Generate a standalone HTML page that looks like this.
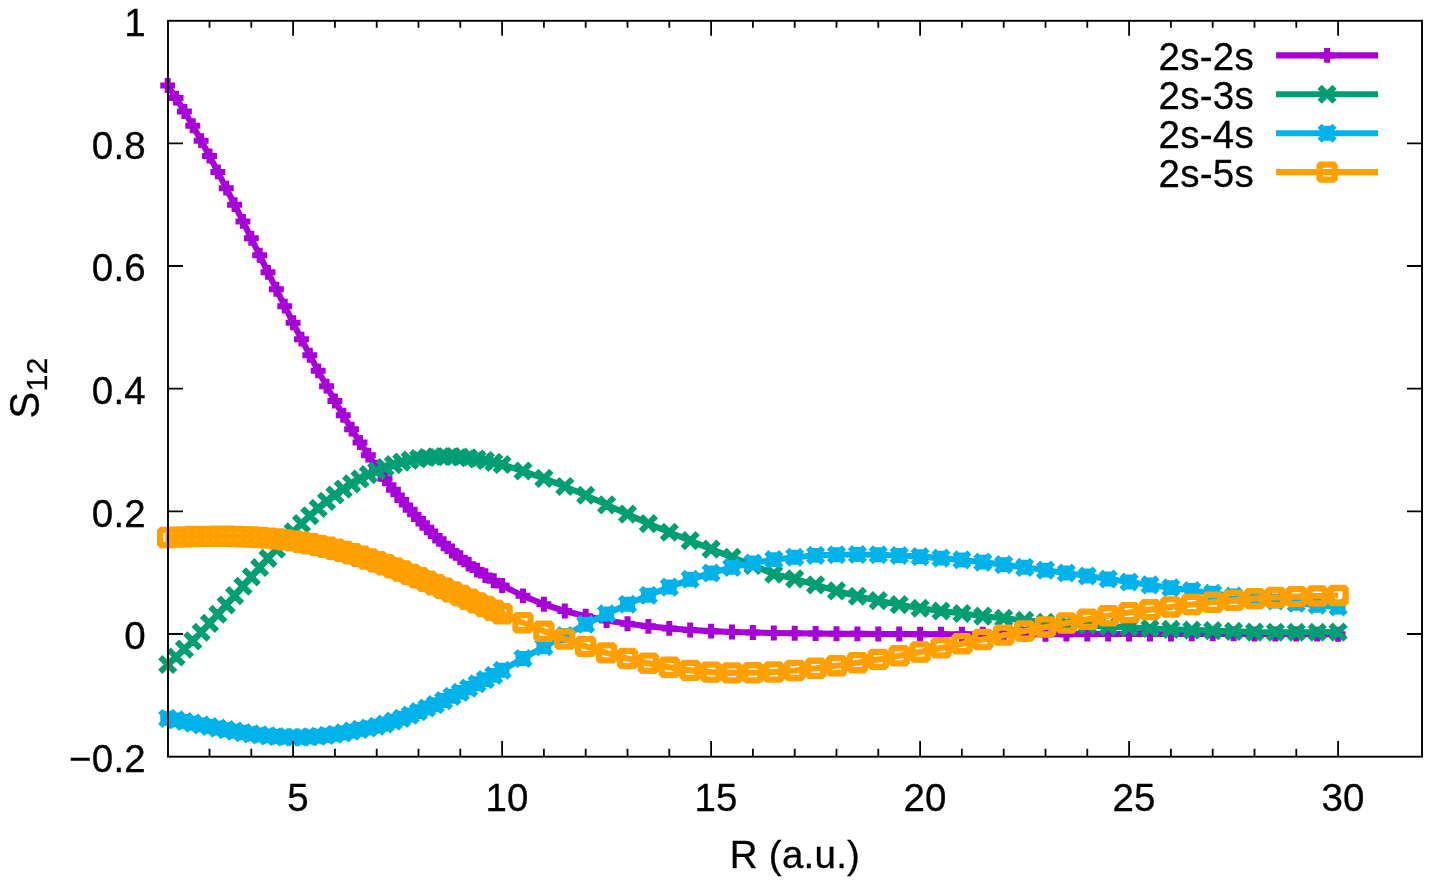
<!DOCTYPE html>
<html lang="en"><head><meta charset="utf-8"><title>S12 overlap vs R</title>
<style>html,body{margin:0;padding:0;background:#fff}svg{display:block}text{font-family:"Liberation Sans",sans-serif;fill:#000;stroke:#000;stroke-width:.3px;letter-spacing:.25px}</style></head>
<body>
<svg width="1434" height="882" viewBox="0 0 1434 882">
<rect width="1434" height="882" fill="#fff"/>
<g stroke="#a800d8" fill="none" stroke-linejoin="miter">
<path stroke-width="6.1" d="M1276.1 55.4H1378.1"/>
<path stroke-width="6.0" d="M1319.65 55.4H1334.55M1327.1 47.95V62.85"/>
<polyline stroke-width="6.1" stroke-linejoin="round" points="167.7,85.47 176.06,98.1 184.42,111.45 192.78,125.76 201.14,140.66 209.5,156.06 217.86,171.91 226.22,188.13 234.58,204.65 242.94,221.4 251.3,238.31 259.66,255.31 268.02,272.33 276.38,289.29 284.74,306.13 293.1,322.77 301.46,339.15 309.82,355.19 318.18,370.87 326.54,386.14 334.9,400.96 343.26,415.31 351.62,429.15 359.98,442.44 368.34,455.16 376.7,467.26 385.06,478.77 393.42,489.69 401.78,500.04 410.14,509.83 418.5,519.08 426.86,527.81 435.22,536.03 443.58,543.76 451.94,551.01 460.3,557.81 468.66,564.16 477.02,570.08 485.38,575.61 493.74,580.74 502.1,585.49 523,595.87 543.9,604.29 564.8,611.01 585.7,616.32 606.6,620.46 627.5,623.72 648.4,626.33 669.3,628.38 690.2,629.96 711.1,631.14 732,631.98 752.9,632.57 773.8,632.96 794.7,633.25 815.6,633.49 836.5,633.68 857.4,633.84 878.3,633.97 899.2,634.07 920.1,634.15 941,634.2 961.9,634.23 982.8,634.24 1003.7,634.23 1024.6,634.21 1045.5,634.18 1066.4,634.15 1087.3,634.11 1108.2,634.06 1129.1,634.02 1150,633.98 1170.9,633.95 1191.8,633.92 1212.7,633.91 1233.6,633.91 1254.5,633.93 1275.4,633.97 1296.3,634.03 1317.2,634.12 1338.1,634.23"/>
<path stroke-width="6.0" d="M160.25 85.47H175.15M167.7 78.02V92.92M168.61 98.1H183.51M176.06 90.65V105.55M176.97 111.45H191.87M184.42 104V118.9M185.33 125.76H200.23M192.78 118.31V133.21M193.69 140.66H208.59M201.14 133.21V148.11M202.05 156.06H216.95M209.5 148.61V163.51M210.41 171.91H225.31M217.86 164.46V179.36M218.77 188.13H233.67M226.22 180.68V195.58M227.13 204.65H242.03M234.58 197.2V212.1M235.49 221.4H250.39M242.94 213.95V228.85M243.85 238.31H258.75M251.3 230.86V245.76M252.21 255.31H267.11M259.66 247.86V262.76M260.57 272.33H275.47M268.02 264.88V279.78M268.93 289.29H283.83M276.38 281.84V296.74M277.29 306.13H292.19M284.74 298.68V313.58M285.65 322.77H300.55M293.1 315.32V330.22M294.01 339.15H308.91M301.46 331.7V346.6M302.37 355.19H317.27M309.82 347.74V362.64M310.73 370.87H325.63M318.18 363.42V378.32M319.09 386.14H333.99M326.54 378.69V393.59M327.45 400.96H342.35M334.9 393.51V408.41M335.81 415.31H350.71M343.26 407.86V422.76M344.17 429.15H359.07M351.62 421.7V436.6M352.53 442.44H367.43M359.98 434.99V449.89M360.89 455.16H375.79M368.34 447.71V462.61M369.25 467.26H384.15M376.7 459.81V474.71M377.61 478.77H392.51M385.06 471.32V486.22M385.97 489.69H400.87M393.42 482.24V497.14M394.33 500.04H409.23M401.78 492.59V507.49M402.69 509.83H417.59M410.14 502.38V517.28M411.05 519.08H425.95M418.5 511.63V526.53M419.41 527.81H434.31M426.86 520.36V535.26M427.77 536.03H442.67M435.22 528.58V543.48M436.13 543.76H451.03M443.58 536.31V551.21M444.49 551.01H459.39M451.94 543.56V558.46M452.85 557.81H467.75M460.3 550.36V565.26M461.21 564.16H476.11M468.66 556.71V571.61M469.57 570.08H484.47M477.02 562.63V577.53M477.93 575.61H492.83M485.38 568.16V583.06M486.29 580.74H501.19M493.74 573.29V588.19M494.65 585.49H509.55M502.1 578.04V592.94M515.55 595.87H530.45M523 588.42V603.32M536.45 604.29H551.35M543.9 596.84V611.74M557.35 611.01H572.25M564.8 603.56V618.46M578.25 616.32H593.15M585.7 608.87V623.77M599.15 620.46H614.05M606.6 613.01V627.91M620.05 623.72H634.95M627.5 616.27V631.17M640.95 626.33H655.85M648.4 618.88V633.78M661.85 628.38H676.75M669.3 620.93V635.83M682.75 629.96H697.65M690.2 622.51V637.41M703.65 631.14H718.55M711.1 623.69V638.59M724.55 631.98H739.45M732 624.53V639.43M745.45 632.57H760.35M752.9 625.12V640.02M766.35 632.96H781.25M773.8 625.51V640.41M787.25 633.25H802.15M794.7 625.8V640.7M808.15 633.49H823.05M815.6 626.04V640.94M829.05 633.68H843.95M836.5 626.23V641.13M849.95 633.84H864.85M857.4 626.39V641.29M870.85 633.97H885.75M878.3 626.52V641.42M891.75 634.07H906.65M899.2 626.62V641.52M912.65 634.15H927.55M920.1 626.7V641.6M933.55 634.2H948.45M941 626.75V641.65M954.45 634.23H969.35M961.9 626.78V641.68M975.35 634.24H990.25M982.8 626.79V641.69M996.25 634.23H1011.15M1003.7 626.78V641.68M1017.15 634.21H1032.05M1024.6 626.76V641.66M1038.05 634.18H1052.95M1045.5 626.73V641.63M1058.95 634.15H1073.85M1066.4 626.7V641.6M1079.85 634.11H1094.75M1087.3 626.66V641.56M1100.75 634.06H1115.65M1108.2 626.61V641.51M1121.65 634.02H1136.55M1129.1 626.57V641.47M1142.55 633.98H1157.45M1150 626.53V641.43M1163.45 633.95H1178.35M1170.9 626.5V641.4M1184.35 633.92H1199.25M1191.8 626.47V641.37M1205.25 633.91H1220.15M1212.7 626.46V641.36M1226.15 633.91H1241.05M1233.6 626.46V641.36M1247.05 633.93H1261.95M1254.5 626.48V641.38M1267.95 633.97H1282.85M1275.4 626.52V641.42M1288.85 634.03H1303.75M1296.3 626.58V641.48M1309.75 634.12H1324.65M1317.2 626.67V641.57M1330.65 634.23H1345.55M1338.1 626.78V641.68"/>
</g>
<g stroke="#009e73" fill="none" stroke-linejoin="miter">
<path stroke-width="6.1" d="M1276.1 94.3H1378.1"/>
<path stroke-width="6.0" d="M1319.65 86.85L1334.55 101.75M1319.65 101.75L1334.55 86.85"/>
<polyline stroke-width="6.1" stroke-linejoin="round" points="167.7,664.47 176.06,657 184.42,649.09 192.78,640.81 201.14,632.21 209.5,623.35 217.86,614.27 226.22,605.02 234.58,595.68 242.94,586.28 251.3,576.89 259.66,567.55 268.02,558.32 276.38,549.26 284.74,540.42 293.1,531.86 301.46,523.62 309.82,515.76 318.18,508.34 326.54,501.41 334.9,495.02 343.26,489.16 351.62,483.82 359.98,478.99 368.34,474.66 376.7,470.83 385.06,467.47 393.42,464.58 401.78,462.15 410.14,460.16 418.5,458.6 426.86,457.48 435.22,456.76 443.58,456.45 451.94,456.52 460.3,456.98 468.66,457.8 477.02,458.99 485.38,460.52 493.74,462.37 502.1,464.51 523,471.03 543.9,478.37 564.8,486.45 585.7,495.29 606.6,504.81 627.5,514.12 648.4,523.63 669.3,532.22 690.2,540.63 711.1,549.14 732,557.21 752.9,565.36 773.8,574.09 794.7,578.89 815.6,584.89 836.5,590.81 857.4,596.21 878.3,600.65 899.2,604.64 920.1,608.22 941,611.04 961.9,613.51 982.8,616.07 1003.7,618.36 1024.6,620.4 1045.5,622.22 1066.4,623.82 1087.3,625.21 1108.2,626.4 1129.1,627.42 1150,628.46 1170.9,629.33 1191.8,630.06 1212.7,630.65 1233.6,631.41 1254.5,632.06 1275.4,632.2 1296.3,632.25 1317.2,632.21 1338.1,632.1"/>
<path stroke-width="6.0" d="M160.25 657.02L175.15 671.92M160.25 671.92L175.15 657.02M168.61 649.55L183.51 664.45M168.61 664.45L183.51 649.55M176.97 641.64L191.87 656.54M176.97 656.54L191.87 641.64M185.33 633.36L200.23 648.26M185.33 648.26L200.23 633.36M193.69 624.76L208.59 639.66M193.69 639.66L208.59 624.76M202.05 615.9L216.95 630.8M202.05 630.8L216.95 615.9M210.41 606.82L225.31 621.72M210.41 621.72L225.31 606.82M218.77 597.57L233.67 612.47M218.77 612.47L233.67 597.57M227.13 588.23L242.03 603.13M227.13 603.13L242.03 588.23M235.49 578.83L250.39 593.73M235.49 593.73L250.39 578.83M243.85 569.44L258.75 584.34M243.85 584.34L258.75 569.44M252.21 560.1L267.11 575M252.21 575L267.11 560.1M260.57 550.87L275.47 565.77M260.57 565.77L275.47 550.87M268.93 541.81L283.83 556.71M268.93 556.71L283.83 541.81M277.29 532.97L292.19 547.87M277.29 547.87L292.19 532.97M285.65 524.41L300.55 539.31M285.65 539.31L300.55 524.41M294.01 516.17L308.91 531.07M294.01 531.07L308.91 516.17M302.37 508.31L317.27 523.21M302.37 523.21L317.27 508.31M310.73 500.89L325.63 515.79M310.73 515.79L325.63 500.89M319.09 493.96L333.99 508.86M319.09 508.86L333.99 493.96M327.45 487.57L342.35 502.47M327.45 502.47L342.35 487.57M335.81 481.71L350.71 496.61M335.81 496.61L350.71 481.71M344.17 476.37L359.07 491.27M344.17 491.27L359.07 476.37M352.53 471.54L367.43 486.44M352.53 486.44L367.43 471.54M360.89 467.21L375.79 482.11M360.89 482.11L375.79 467.21M369.25 463.38L384.15 478.28M369.25 478.28L384.15 463.38M377.61 460.02L392.51 474.92M377.61 474.92L392.51 460.02M385.97 457.13L400.87 472.03M385.97 472.03L400.87 457.13M394.33 454.7L409.23 469.6M394.33 469.6L409.23 454.7M402.69 452.71L417.59 467.61M402.69 467.61L417.59 452.71M411.05 451.15L425.95 466.05M411.05 466.05L425.95 451.15M419.41 450.03L434.31 464.93M419.41 464.93L434.31 450.03M427.77 449.31L442.67 464.21M427.77 464.21L442.67 449.31M436.13 449L451.03 463.9M436.13 463.9L451.03 449M444.49 449.07L459.39 463.97M444.49 463.97L459.39 449.07M452.85 449.53L467.75 464.43M452.85 464.43L467.75 449.53M461.21 450.35L476.11 465.25M461.21 465.25L476.11 450.35M469.57 451.54L484.47 466.44M469.57 466.44L484.47 451.54M477.93 453.07L492.83 467.97M477.93 467.97L492.83 453.07M486.29 454.92L501.19 469.82M486.29 469.82L501.19 454.92M494.65 457.06L509.55 471.96M494.65 471.96L509.55 457.06M515.55 463.58L530.45 478.48M515.55 478.48L530.45 463.58M536.45 470.92L551.35 485.82M536.45 485.82L551.35 470.92M557.35 479L572.25 493.9M557.35 493.9L572.25 479M578.25 487.84L593.15 502.74M578.25 502.74L593.15 487.84M599.15 497.36L614.05 512.26M599.15 512.26L614.05 497.36M620.05 506.67L634.95 521.57M620.05 521.57L634.95 506.67M640.95 516.18L655.85 531.08M640.95 531.08L655.85 516.18M661.85 524.77L676.75 539.67M661.85 539.67L676.75 524.77M682.75 533.18L697.65 548.08M682.75 548.08L697.65 533.18M703.65 541.69L718.55 556.59M703.65 556.59L718.55 541.69M724.55 549.76L739.45 564.66M724.55 564.66L739.45 549.76M745.45 557.91L760.35 572.81M745.45 572.81L760.35 557.91M766.35 566.64L781.25 581.54M766.35 581.54L781.25 566.64M787.25 571.44L802.15 586.34M787.25 586.34L802.15 571.44M808.15 577.44L823.05 592.34M808.15 592.34L823.05 577.44M829.05 583.36L843.95 598.26M829.05 598.26L843.95 583.36M849.95 588.76L864.85 603.66M849.95 603.66L864.85 588.76M870.85 593.2L885.75 608.1M870.85 608.1L885.75 593.2M891.75 597.19L906.65 612.09M891.75 612.09L906.65 597.19M912.65 600.77L927.55 615.67M912.65 615.67L927.55 600.77M933.55 603.59L948.45 618.49M933.55 618.49L948.45 603.59M954.45 606.06L969.35 620.96M954.45 620.96L969.35 606.06M975.35 608.62L990.25 623.52M975.35 623.52L990.25 608.62M996.25 610.91L1011.15 625.81M996.25 625.81L1011.15 610.91M1017.15 612.95L1032.05 627.85M1017.15 627.85L1032.05 612.95M1038.05 614.77L1052.95 629.67M1038.05 629.67L1052.95 614.77M1058.95 616.37L1073.85 631.27M1058.95 631.27L1073.85 616.37M1079.85 617.76L1094.75 632.66M1079.85 632.66L1094.75 617.76M1100.75 618.95L1115.65 633.85M1100.75 633.85L1115.65 618.95M1121.65 619.97L1136.55 634.87M1121.65 634.87L1136.55 619.97M1142.55 621.01L1157.45 635.91M1142.55 635.91L1157.45 621.01M1163.45 621.88L1178.35 636.78M1163.45 636.78L1178.35 621.88M1184.35 622.61L1199.25 637.51M1184.35 637.51L1199.25 622.61M1205.25 623.2L1220.15 638.1M1205.25 638.1L1220.15 623.2M1226.15 623.96L1241.05 638.86M1226.15 638.86L1241.05 623.96M1247.05 624.61L1261.95 639.51M1247.05 639.51L1261.95 624.61M1267.95 624.75L1282.85 639.65M1267.95 639.65L1282.85 624.75M1288.85 624.8L1303.75 639.7M1288.85 639.7L1303.75 624.8M1309.75 624.76L1324.65 639.66M1309.75 639.66L1324.65 624.76M1330.65 624.65L1345.55 639.55M1330.65 639.55L1345.55 624.65"/>
</g>
<g stroke="#00b2ea" fill="none" stroke-linejoin="miter">
<path stroke-width="6.1" d="M1276.1 133.2H1378.1"/>
<path stroke-width="6.0" d="M1319.65 133.2H1334.55M1327.1 125.75V140.65M1319.65 125.75L1334.55 140.65M1319.65 140.65L1334.55 125.75"/>
<polyline stroke-width="6.1" stroke-linejoin="round" points="167.7,718.34 176.06,719.89 184.42,721.51 192.78,723.16 201.14,724.83 209.5,726.49 217.86,728.12 226.22,729.69 234.58,731.18 242.94,732.56 251.3,733.82 259.66,734.92 268.02,735.84 276.38,736.55 284.74,737.05 293.1,737.29 301.46,737.25 309.82,736.92 318.18,736.3 326.54,735.39 334.9,734.2 343.26,732.91 351.62,731.16 359.98,729.34 368.34,728.05 376.7,726.21 385.06,724.02 393.42,721.12 401.78,718.42 410.14,715.06 418.5,711.58 426.86,708 435.22,704.62 443.58,700.56 451.94,696.32 460.3,692.4 468.66,688.1 477.02,683.74 485.38,679.61 493.74,675.42 502.1,670.28 523,658.46 543.9,646.79 564.8,635.53 585.7,624.21 606.6,613.94 627.5,604.21 648.4,595.3 669.3,587.07 690.2,579.29 711.1,572.98 732,567.33 752.9,562.98 773.8,559.66 794.7,557.2 815.6,555.35 836.5,554.74 857.4,554.53 878.3,554.78 899.2,555.53 920.1,556.66 941,558.15 961.9,559.94 982.8,562.17 1003.7,564.64 1024.6,567.32 1045.5,570.16 1066.4,573.02 1087.3,575.97 1108.2,578.99 1129.1,582.03 1150,584.93 1170.9,587.79 1191.8,590.57 1212.7,593.23 1233.6,596.03 1254.5,598.64 1275.4,601.02 1296.3,603.3 1317.2,605.29 1338.1,606.94"/>
<path stroke-width="6.0" d="M160.25 718.34H175.15M167.7 710.89V725.79M160.25 710.89L175.15 725.79M160.25 725.79L175.15 710.89M168.61 719.89H183.51M176.06 712.44V727.34M168.61 712.44L183.51 727.34M168.61 727.34L183.51 712.44M176.97 721.51H191.87M184.42 714.06V728.96M176.97 714.06L191.87 728.96M176.97 728.96L191.87 714.06M185.33 723.16H200.23M192.78 715.71V730.61M185.33 715.71L200.23 730.61M185.33 730.61L200.23 715.71M193.69 724.83H208.59M201.14 717.38V732.28M193.69 717.38L208.59 732.28M193.69 732.28L208.59 717.38M202.05 726.49H216.95M209.5 719.04V733.94M202.05 719.04L216.95 733.94M202.05 733.94L216.95 719.04M210.41 728.12H225.31M217.86 720.67V735.57M210.41 720.67L225.31 735.57M210.41 735.57L225.31 720.67M218.77 729.69H233.67M226.22 722.24V737.14M218.77 722.24L233.67 737.14M218.77 737.14L233.67 722.24M227.13 731.18H242.03M234.58 723.73V738.63M227.13 723.73L242.03 738.63M227.13 738.63L242.03 723.73M235.49 732.56H250.39M242.94 725.11V740.01M235.49 725.11L250.39 740.01M235.49 740.01L250.39 725.11M243.85 733.82H258.75M251.3 726.37V741.27M243.85 726.37L258.75 741.27M243.85 741.27L258.75 726.37M252.21 734.92H267.11M259.66 727.47V742.37M252.21 727.47L267.11 742.37M252.21 742.37L267.11 727.47M260.57 735.84H275.47M268.02 728.39V743.29M260.57 728.39L275.47 743.29M260.57 743.29L275.47 728.39M268.93 736.55H283.83M276.38 729.1V744M268.93 729.1L283.83 744M268.93 744L283.83 729.1M277.29 737.05H292.19M284.74 729.6V744.5M277.29 729.6L292.19 744.5M277.29 744.5L292.19 729.6M285.65 737.29H300.55M293.1 729.84V744.74M285.65 729.84L300.55 744.74M285.65 744.74L300.55 729.84M294.01 737.25H308.91M301.46 729.8V744.7M294.01 729.8L308.91 744.7M294.01 744.7L308.91 729.8M302.37 736.92H317.27M309.82 729.47V744.37M302.37 729.47L317.27 744.37M302.37 744.37L317.27 729.47M310.73 736.3H325.63M318.18 728.85V743.75M310.73 728.85L325.63 743.75M310.73 743.75L325.63 728.85M319.09 735.39H333.99M326.54 727.94V742.84M319.09 727.94L333.99 742.84M319.09 742.84L333.99 727.94M327.45 734.2H342.35M334.9 726.75V741.65M327.45 726.75L342.35 741.65M327.45 741.65L342.35 726.75M335.81 732.91H350.71M343.26 725.46V740.36M335.81 725.46L350.71 740.36M335.81 740.36L350.71 725.46M344.17 731.16H359.07M351.62 723.71V738.61M344.17 723.71L359.07 738.61M344.17 738.61L359.07 723.71M352.53 729.34H367.43M359.98 721.89V736.79M352.53 721.89L367.43 736.79M352.53 736.79L367.43 721.89M360.89 728.05H375.79M368.34 720.6V735.5M360.89 720.6L375.79 735.5M360.89 735.5L375.79 720.6M369.25 726.21H384.15M376.7 718.76V733.66M369.25 718.76L384.15 733.66M369.25 733.66L384.15 718.76M377.61 724.02H392.51M385.06 716.57V731.47M377.61 716.57L392.51 731.47M377.61 731.47L392.51 716.57M385.97 721.12H400.87M393.42 713.67V728.57M385.97 713.67L400.87 728.57M385.97 728.57L400.87 713.67M394.33 718.42H409.23M401.78 710.97V725.87M394.33 710.97L409.23 725.87M394.33 725.87L409.23 710.97M402.69 715.06H417.59M410.14 707.61V722.51M402.69 707.61L417.59 722.51M402.69 722.51L417.59 707.61M411.05 711.58H425.95M418.5 704.13V719.03M411.05 704.13L425.95 719.03M411.05 719.03L425.95 704.13M419.41 708H434.31M426.86 700.55V715.45M419.41 700.55L434.31 715.45M419.41 715.45L434.31 700.55M427.77 704.62H442.67M435.22 697.17V712.07M427.77 697.17L442.67 712.07M427.77 712.07L442.67 697.17M436.13 700.56H451.03M443.58 693.11V708.01M436.13 693.11L451.03 708.01M436.13 708.01L451.03 693.11M444.49 696.32H459.39M451.94 688.87V703.77M444.49 688.87L459.39 703.77M444.49 703.77L459.39 688.87M452.85 692.4H467.75M460.3 684.95V699.85M452.85 684.95L467.75 699.85M452.85 699.85L467.75 684.95M461.21 688.1H476.11M468.66 680.65V695.55M461.21 680.65L476.11 695.55M461.21 695.55L476.11 680.65M469.57 683.74H484.47M477.02 676.29V691.19M469.57 676.29L484.47 691.19M469.57 691.19L484.47 676.29M477.93 679.61H492.83M485.38 672.16V687.06M477.93 672.16L492.83 687.06M477.93 687.06L492.83 672.16M486.29 675.42H501.19M493.74 667.97V682.87M486.29 667.97L501.19 682.87M486.29 682.87L501.19 667.97M494.65 670.28H509.55M502.1 662.83V677.73M494.65 662.83L509.55 677.73M494.65 677.73L509.55 662.83M515.55 658.46H530.45M523 651.01V665.91M515.55 651.01L530.45 665.91M515.55 665.91L530.45 651.01M536.45 646.79H551.35M543.9 639.34V654.24M536.45 639.34L551.35 654.24M536.45 654.24L551.35 639.34M557.35 635.53H572.25M564.8 628.08V642.98M557.35 628.08L572.25 642.98M557.35 642.98L572.25 628.08M578.25 624.21H593.15M585.7 616.76V631.66M578.25 616.76L593.15 631.66M578.25 631.66L593.15 616.76M599.15 613.94H614.05M606.6 606.49V621.39M599.15 606.49L614.05 621.39M599.15 621.39L614.05 606.49M620.05 604.21H634.95M627.5 596.76V611.66M620.05 596.76L634.95 611.66M620.05 611.66L634.95 596.76M640.95 595.3H655.85M648.4 587.85V602.75M640.95 587.85L655.85 602.75M640.95 602.75L655.85 587.85M661.85 587.07H676.75M669.3 579.62V594.52M661.85 579.62L676.75 594.52M661.85 594.52L676.75 579.62M682.75 579.29H697.65M690.2 571.84V586.74M682.75 571.84L697.65 586.74M682.75 586.74L697.65 571.84M703.65 572.98H718.55M711.1 565.53V580.43M703.65 565.53L718.55 580.43M703.65 580.43L718.55 565.53M724.55 567.33H739.45M732 559.88V574.78M724.55 559.88L739.45 574.78M724.55 574.78L739.45 559.88M745.45 562.98H760.35M752.9 555.53V570.43M745.45 555.53L760.35 570.43M745.45 570.43L760.35 555.53M766.35 559.66H781.25M773.8 552.21V567.11M766.35 552.21L781.25 567.11M766.35 567.11L781.25 552.21M787.25 557.2H802.15M794.7 549.75V564.65M787.25 549.75L802.15 564.65M787.25 564.65L802.15 549.75M808.15 555.35H823.05M815.6 547.9V562.8M808.15 547.9L823.05 562.8M808.15 562.8L823.05 547.9M829.05 554.74H843.95M836.5 547.29V562.19M829.05 547.29L843.95 562.19M829.05 562.19L843.95 547.29M849.95 554.53H864.85M857.4 547.08V561.98M849.95 547.08L864.85 561.98M849.95 561.98L864.85 547.08M870.85 554.78H885.75M878.3 547.33V562.23M870.85 547.33L885.75 562.23M870.85 562.23L885.75 547.33M891.75 555.53H906.65M899.2 548.08V562.98M891.75 548.08L906.65 562.98M891.75 562.98L906.65 548.08M912.65 556.66H927.55M920.1 549.21V564.11M912.65 549.21L927.55 564.11M912.65 564.11L927.55 549.21M933.55 558.15H948.45M941 550.7V565.6M933.55 550.7L948.45 565.6M933.55 565.6L948.45 550.7M954.45 559.94H969.35M961.9 552.49V567.39M954.45 552.49L969.35 567.39M954.45 567.39L969.35 552.49M975.35 562.17H990.25M982.8 554.72V569.62M975.35 554.72L990.25 569.62M975.35 569.62L990.25 554.72M996.25 564.64H1011.15M1003.7 557.19V572.09M996.25 557.19L1011.15 572.09M996.25 572.09L1011.15 557.19M1017.15 567.32H1032.05M1024.6 559.87V574.77M1017.15 559.87L1032.05 574.77M1017.15 574.77L1032.05 559.87M1038.05 570.16H1052.95M1045.5 562.71V577.61M1038.05 562.71L1052.95 577.61M1038.05 577.61L1052.95 562.71M1058.95 573.02H1073.85M1066.4 565.57V580.47M1058.95 565.57L1073.85 580.47M1058.95 580.47L1073.85 565.57M1079.85 575.97H1094.75M1087.3 568.52V583.42M1079.85 568.52L1094.75 583.42M1079.85 583.42L1094.75 568.52M1100.75 578.99H1115.65M1108.2 571.54V586.44M1100.75 571.54L1115.65 586.44M1100.75 586.44L1115.65 571.54M1121.65 582.03H1136.55M1129.1 574.58V589.48M1121.65 574.58L1136.55 589.48M1121.65 589.48L1136.55 574.58M1142.55 584.93H1157.45M1150 577.48V592.38M1142.55 577.48L1157.45 592.38M1142.55 592.38L1157.45 577.48M1163.45 587.79H1178.35M1170.9 580.34V595.24M1163.45 580.34L1178.35 595.24M1163.45 595.24L1178.35 580.34M1184.35 590.57H1199.25M1191.8 583.12V598.02M1184.35 583.12L1199.25 598.02M1184.35 598.02L1199.25 583.12M1205.25 593.23H1220.15M1212.7 585.78V600.68M1205.25 585.78L1220.15 600.68M1205.25 600.68L1220.15 585.78M1226.15 596.03H1241.05M1233.6 588.58V603.48M1226.15 588.58L1241.05 603.48M1226.15 603.48L1241.05 588.58M1247.05 598.64H1261.95M1254.5 591.19V606.09M1247.05 591.19L1261.95 606.09M1247.05 606.09L1261.95 591.19M1267.95 601.02H1282.85M1275.4 593.57V608.47M1267.95 593.57L1282.85 608.47M1267.95 608.47L1282.85 593.57M1288.85 603.3H1303.75M1296.3 595.85V610.75M1288.85 595.85L1303.75 610.75M1288.85 610.75L1303.75 595.85M1309.75 605.29H1324.65M1317.2 597.84V612.74M1309.75 597.84L1324.65 612.74M1309.75 612.74L1324.65 597.84M1330.65 606.94H1345.55M1338.1 599.49V614.39M1330.65 599.49L1345.55 614.39M1330.65 614.39L1345.55 599.49"/>
</g>
<g stroke="#ff9f00" fill="none" stroke-linejoin="bevel">
<path stroke-width="6.1" d="M1276.1 172.1H1378.1"/>
<path stroke-width="6.3" d="M1319.55 164.55H1334.65V179.65H1319.55Z"/>
<polyline stroke-width="6.1" stroke-linejoin="round" points="167.7,537.49 176.06,537.11 184.42,536.85 192.78,536.56 201.14,536.39 209.5,536.36 217.86,536.27 226.22,536.31 234.58,536.5 242.94,536.7 251.3,537.05 259.66,537.55 268.02,538.15 276.38,538.91 284.74,539.83 293.1,540.91 301.46,542.22 309.82,543.71 318.18,545.36 326.54,547.18 334.9,549.18 343.26,551.38 351.62,553.75 359.98,556.27 368.34,558.94 376.7,561.74 385.06,564.73 393.42,567.84 401.78,571.05 410.14,574.35 418.5,577.74 426.86,581.2 435.22,584.72 443.58,588.29 451.94,591.9 460.3,595.54 468.66,599.2 477.02,602.87 485.38,606.53 493.74,610.18 502.1,613.81 523,622.7 543.9,631.2 564.8,639.15 585.7,646.39 606.6,652.86 627.5,658.49 648.4,663.22 669.3,667.31 690.2,670.39 711.1,672.13 732,672.9 752.9,672.82 773.8,671.98 794.7,670.47 815.6,668.31 836.5,665.68 857.4,662.72 878.3,659.42 899.2,655.82 920.1,651.98 941,647.92 961.9,643.72 982.8,639.46 1003.7,635.17 1024.6,631.01 1045.5,626.93 1066.4,623 1087.3,619.28 1108.2,615.81 1129.1,612.59 1150,609.63 1170.9,606.93 1191.8,604.48 1212.7,602.29 1233.6,600.34 1254.5,598.65 1275.4,597.5 1296.3,596.6 1317.2,595.95 1338.1,595.54"/>
<path stroke-width="6.3" d="M160.15 529.94H175.25V545.04H160.15ZM168.51 529.56H183.61V544.66H168.51ZM176.87 529.3H191.97V544.4H176.87ZM185.23 529.01H200.33V544.11H185.23ZM193.59 528.84H208.69V543.94H193.59ZM201.95 528.81H217.05V543.91H201.95ZM210.31 528.72H225.41V543.82H210.31ZM218.67 528.76H233.77V543.86H218.67ZM227.03 528.95H242.13V544.05H227.03ZM235.39 529.15H250.49V544.25H235.39ZM243.75 529.5H258.85V544.6H243.75ZM252.11 530H267.21V545.1H252.11ZM260.47 530.6H275.57V545.7H260.47ZM268.83 531.36H283.93V546.46H268.83ZM277.19 532.28H292.29V547.38H277.19ZM285.55 533.36H300.65V548.46H285.55ZM293.91 534.67H309.01V549.77H293.91ZM302.27 536.16H317.37V551.26H302.27ZM310.63 537.81H325.73V552.91H310.63ZM318.99 539.63H334.09V554.73H318.99ZM327.35 541.63H342.45V556.73H327.35ZM335.71 543.83H350.81V558.93H335.71ZM344.07 546.2H359.17V561.3H344.07ZM352.43 548.72H367.53V563.82H352.43ZM360.79 551.39H375.89V566.49H360.79ZM369.15 554.19H384.25V569.29H369.15ZM377.51 557.18H392.61V572.28H377.51ZM385.87 560.29H400.97V575.39H385.87ZM394.23 563.5H409.33V578.6H394.23ZM402.59 566.8H417.69V581.9H402.59ZM410.95 570.19H426.05V585.29H410.95ZM419.31 573.65H434.41V588.75H419.31ZM427.67 577.17H442.77V592.27H427.67ZM436.03 580.74H451.13V595.84H436.03ZM444.39 584.35H459.49V599.45H444.39ZM452.75 587.99H467.85V603.09H452.75ZM461.11 591.65H476.21V606.75H461.11ZM469.47 595.32H484.57V610.42H469.47ZM477.83 598.98H492.93V614.08H477.83ZM486.19 602.63H501.29V617.73H486.19ZM494.55 606.26H509.65V621.36H494.55ZM515.45 615.15H530.55V630.25H515.45ZM536.35 623.65H551.45V638.75H536.35ZM557.25 631.6H572.35V646.7H557.25ZM578.15 638.84H593.25V653.94H578.15ZM599.05 645.31H614.15V660.41H599.05ZM619.95 650.94H635.05V666.04H619.95ZM640.85 655.67H655.95V670.77H640.85ZM661.75 659.76H676.85V674.86H661.75ZM682.65 662.84H697.75V677.94H682.65ZM703.55 664.58H718.65V679.68H703.55ZM724.45 665.35H739.55V680.45H724.45ZM745.35 665.27H760.45V680.37H745.35ZM766.25 664.43H781.35V679.53H766.25ZM787.15 662.92H802.25V678.02H787.15ZM808.05 660.76H823.15V675.86H808.05ZM828.95 658.13H844.05V673.23H828.95ZM849.85 655.17H864.95V670.27H849.85ZM870.75 651.87H885.85V666.97H870.75ZM891.65 648.27H906.75V663.37H891.65ZM912.55 644.43H927.65V659.53H912.55ZM933.45 640.37H948.55V655.47H933.45ZM954.35 636.17H969.45V651.27H954.35ZM975.25 631.91H990.35V647.01H975.25ZM996.15 627.62H1011.25V642.72H996.15ZM1017.05 623.46H1032.15V638.56H1017.05ZM1037.95 619.38H1053.05V634.48H1037.95ZM1058.85 615.45H1073.95V630.55H1058.85ZM1079.75 611.73H1094.85V626.83H1079.75ZM1100.65 608.26H1115.75V623.36H1100.65ZM1121.55 605.04H1136.65V620.14H1121.55ZM1142.45 602.08H1157.55V617.18H1142.45ZM1163.35 599.38H1178.45V614.48H1163.35ZM1184.25 596.93H1199.35V612.03H1184.25ZM1205.15 594.74H1220.25V609.84H1205.15ZM1226.05 592.79H1241.15V607.89H1226.05ZM1246.95 591.1H1262.05V606.2H1246.95ZM1267.85 589.95H1282.95V605.05H1267.85ZM1288.75 589.05H1303.85V604.15H1288.75ZM1309.65 588.4H1324.75V603.5H1309.65ZM1330.55 587.99H1345.65V603.09H1330.55Z"/>
</g>
<path d="M209.5 756.7v-7.85M209.5 20.8v7.05M251.3 756.7v-7.85M251.3 20.8v7.05M293.1 756.7v-15.7M293.1 20.8v14.9M334.9 756.7v-7.85M334.9 20.8v7.05M376.7 756.7v-7.85M376.7 20.8v7.05M418.5 756.7v-7.85M418.5 20.8v7.05M460.3 756.7v-7.85M460.3 20.8v7.05M502.1 756.7v-15.7M502.1 20.8v14.9M543.9 756.7v-7.85M543.9 20.8v7.05M585.7 756.7v-7.85M585.7 20.8v7.05M627.5 756.7v-7.85M627.5 20.8v7.05M669.3 756.7v-7.85M669.3 20.8v7.05M711.1 756.7v-15.7M711.1 20.8v14.9M752.9 756.7v-7.85M752.9 20.8v7.05M794.7 756.7v-7.85M794.7 20.8v7.05M836.5 756.7v-7.85M836.5 20.8v7.05M878.3 756.7v-7.85M878.3 20.8v7.05M920.1 756.7v-15.7M920.1 20.8v14.9M961.9 756.7v-7.85M961.9 20.8v7.05M1003.7 756.7v-7.85M1003.7 20.8v7.05M1045.5 756.7v-7.85M1045.5 20.8v7.05M1087.3 756.7v-7.85M1087.3 20.8v7.05M1129.1 756.7v-15.7M1129.1 20.8v14.9M1170.9 756.7v-7.85M1170.9 20.8v7.05M1212.7 756.7v-7.85M1212.7 20.8v7.05M1254.5 756.7v-7.85M1254.5 20.8v7.05M1296.3 756.7v-7.85M1296.3 20.8v7.05M1338.1 756.7v-15.7M1338.1 20.8v14.9M168 633.98h15M1422 633.98h-15M168 511.32h15M1422 511.32h-15M168 388.65h15M1422 388.65h-15M168 265.98h15M1422 265.98h-15M168 143.32h15M1422 143.32h-15" stroke="#000" stroke-width="1.8" fill="none"/>
<rect x="168" y="20.8" width="1254" height="735.9" fill="none" stroke="#000" stroke-width="1.9"/>
<g font-size="38.5">
<text x="146" y="771.95" text-anchor="end">−0.2</text>
<text x="146" y="649.28" text-anchor="end">0</text>
<text x="146" y="526.62" text-anchor="end">0.2</text>
<text x="146" y="403.95" text-anchor="end">0.4</text>
<text x="146" y="281.28" text-anchor="end">0.6</text>
<text x="146" y="158.62" text-anchor="end">0.8</text>
<text x="146" y="35.95" text-anchor="end">1</text>
<text x="298.1" y="810.7" text-anchor="middle">5</text>
<text x="507.1" y="810.7" text-anchor="middle">10</text>
<text x="716.1" y="810.7" text-anchor="middle">15</text>
<text x="925.1" y="810.7" text-anchor="middle">20</text>
<text x="1134.1" y="810.7" text-anchor="middle">25</text>
<text x="1343.1" y="810.7" text-anchor="middle">30</text>
<text x="1254" y="70" text-anchor="end">2s-2s</text>
<text x="1254" y="108.9" text-anchor="end">2s-3s</text>
<text x="1254" y="147.8" text-anchor="end">2s-4s</text>
<text x="1254" y="186.7" text-anchor="end">2s-5s</text>
<text x="795" y="868" text-anchor="middle">R (a.u.)</text>
<text transform="translate(39.2,418.4) rotate(-90) scale(1,1.056)" font-size="39.8">S</text>
<text transform="translate(46.9,391.6) rotate(-90)" font-size="30.4">12</text>
</g>
</svg>
</body></html>
